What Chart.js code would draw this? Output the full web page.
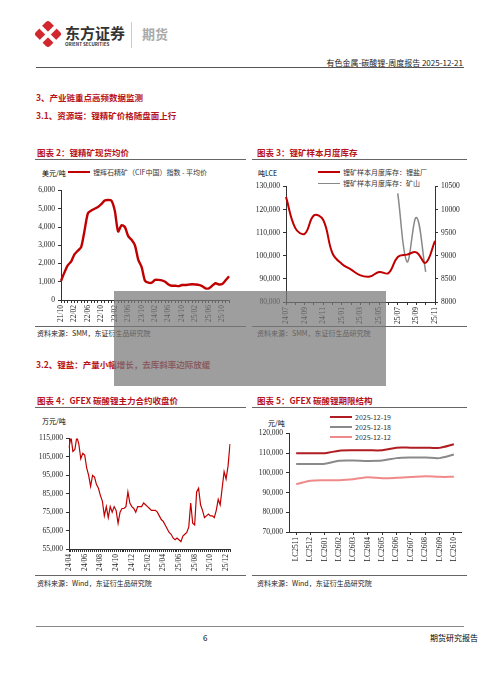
<!DOCTYPE html>
<html><head><meta charset="utf-8">
<script src="https://cdn.jsdelivr.net/npm/chart.js@4"></script>
<style>
body{margin:0;width:500px;height:678px;background:#fff;position:relative;overflow:hidden;font-family:"Noto Sans CJK SC",serif;}
.a{position:absolute;white-space:nowrap;}
.red{color:#b8121b;font-weight:bold;}
.t{font-size:8.5px;}
.src{font-size:7px;color:#222;}
.ln{position:absolute;height:0;border-top:1px solid #666;}
canvas{position:absolute;}
.lg{position:absolute;font-size:7px;color:#333;white-space:nowrap;display:flex;align-items:center;}
.lg i{display:inline-block;width:22px;height:0;margin-right:3px;}
</style></head><body>
<!-- header -->
<div class="a" style="left:38px;top:24px;width:20px;height:20px;transform:rotate(45deg);background:#d0282e;border-radius:3px;"></div>
<div class="a" style="left:46px;top:23px;width:4px;height:23px;background:#fff;transform:rotate(45deg);"></div>
<div class="a" style="left:46px;top:23px;width:4px;height:23px;background:#fff;transform:rotate(-45deg);"></div>
<div class="a" style="left:65px;top:22px;font-size:15px;font-weight:bold;color:#333;">东方证券</div>
<div class="a" style="left:65px;top:41px;font-size:4.5px;font-weight:bold;color:#333;">ORIENT SECURITIES</div>
<div class="a" style="left:131px;top:22px;width:1px;height:26px;background:#ccc;"></div>
<div class="a" style="left:142px;top:24px;font-size:13px;font-weight:bold;color:#aaa;">期货</div>
<div class="a" style="right:37px;top:57px;font-size:8px;color:#222;">有色金属-碳酸锂-周度报告 2025-12-21</div>
<div class="ln" style="left:36px;width:428px;top:67px;border-color:#555;"></div>
<div class="a red t" style="left:36px;top:91px;">3、产业链重点高频数据监测</div>
<div class="a red t" style="left:36px;top:109px;">3.1、资源端：锂精矿价格随盘面上行</div>
<div class="a red t" style="left:37px;top:146px;">图表 2：锂精矿现货均价</div>
<div class="a red t" style="left:257px;top:146px;">图表 3：锂矿样本月度库存</div>
<div class="ln" style="left:35px;width:211px;top:159px;"></div>
<div class="ln" style="left:252px;width:215px;top:159px;"></div>
<div class="a" style="left:42px;top:168px;font-size:7px;">美元/吨</div>
<div class="lg" style="left:68px;top:167px;"><i style="border-top:2.5px solid #c00000"></i>锂辉石精矿（CIF中国）指数 - 平均价</div>
<div class="a" style="left:258px;top:168px;font-size:7px;">吨LCE</div>
<div class="lg" style="left:318px;top:167px;"><i style="border-top:2px solid #c00000"></i>锂矿样本月度库存：锂盐厂</div>
<div class="lg" style="left:318px;top:178px;"><i style="border-top:1.5px solid #888"></i>锂矿样本月度库存：矿山</div>
<div class="ln" style="left:35px;width:211px;top:326px;"></div>
<div class="ln" style="left:252px;width:215px;top:326px;"></div>
<div class="a src" style="left:37px;top:328px;">资料来源：SMM，东证衍生品研究院</div>
<div class="a src" style="left:257px;top:328px;">资料来源：SMM，东证衍生品研究院</div>
<div class="a red t" style="left:36px;top:358px;">3.2、锂盐：产量小幅增长，去库斜率边际放缓</div>
<div class="a red t" style="left:37px;top:394px;">图表 4：GFEX 碳酸锂主力合约收盘价</div>
<div class="a red t" style="left:257px;top:394px;">图表 5：GFEX 碳酸锂期限结构</div>
<div class="ln" style="left:35px;width:211px;top:407px;"></div>
<div class="ln" style="left:252px;width:215px;top:407px;"></div>
<div class="a" style="left:42px;top:416px;font-size:7px;">万元/吨</div>
<div class="a" style="left:268px;top:418px;font-size:7px;">元/吨</div>
<div class="lg" style="left:330px;top:412px;"><i style="border-top:2.5px solid #b01c22"></i>2025-12-19</div>
<div class="lg" style="left:330px;top:422px;"><i style="border-top:2.5px solid #8a8a8a"></i>2025-12-18</div>
<div class="lg" style="left:330px;top:432px;"><i style="border-top:2.5px solid #f08a8a"></i>2025-12-12</div>
<div class="ln" style="left:35px;width:211px;top:575px;"></div>
<div class="ln" style="left:252px;width:215px;top:575px;"></div>
<div class="a src" style="left:37px;top:578px;">资料来源：Wind，东证衍生品研究院</div>
<div class="a src" style="left:257px;top:578px;">资料来源：Wind，东证衍生品研究院</div>
<div class="ln" style="left:36px;width:428px;top:626px;border-color:#888;"></div>
<div class="a" style="left:203px;top:632px;font-size:8px;">6</div>
<div class="a" style="left:430px;top:632px;font-size:8px;">期货研究报告</div>

<canvas id="c2" width="209" height="141" style="left:31px;top:183px;"></canvas>
<canvas id="c3" width="211" height="147" style="left:254px;top:179px;"></canvas>
<canvas id="c4" width="204" height="142" style="left:37px;top:431px;"></canvas>
<canvas id="c5" width="209" height="138" style="left:256px;top:426px;"></canvas>
<div class="a" style="left:114px;top:291px;width:272px;height:95px;background:rgba(120,120,120,0.72);"></div>
<script>
// chart 2: spodumene CIF China, monthly
const spodMonths = ['21/10','21/11','21/12','22/01','22/02','22/03','22/04','22/05','22/06','22/07','22/08','22/09','22/10','22/11','22/12',
 '23/01','23/02','23/03','23/04','23/05','23/06','23/07','23/08','23/09','23/10','23/11','23/12',
 '24/01','24/02','24/03','24/04','24/05','24/06','24/07','24/08','24/09','24/10','24/11','24/12',
 '25/01','25/02','25/03','25/04','25/05','25/06','25/07','25/08','25/09','25/10','25/11','25/12'];
const spodPrice = [1050,1500,1900,2100,2500,2700,2900,3800,4750,4900,5000,5100,5250,5450,5480,
 5450,4900,3750,4100,4000,3500,3300,3000,2200,1800,1050,950,
 950,1100,1100,1080,1000,850,780,780,760,820,820,840,
 860,850,830,760,640,640,780,920,850,880,1080,1300];
const spodTicks = ['21/10','22/02','22/06','22/10','23/02','23/06','23/10','24/02','24/06','24/10','25/02','25/06','25/10'];

// chart 3: lithium ore inventory
const invMonths = ['24/07','24/08','24/09','24/10','24/11','24/12','25/01','25/02','25/03','25/04','25/05','25/06','25/07','25/08','25/09','25/10','25/11'];
const invSaltPlant = [125500,112000,109500,117500,115500,101000,96500,94000,91500,91000,93000,92500,99500,100500,101500,97000,106500];
const invMine = [null,null,null,null,null,null,null,null,null,null,null,null,10350,8870,9830,8650,null];
const invTicks = ['24/07','24/09','24/11','25/01','25/03','25/05','25/07','25/09','25/11'];

// chart 4: GFEX main contract, roughly weekly
const gfexMonths = ['24/04','24/05','24/06','24/07','24/08','24/09','24/10','24/11','24/12','25/01','25/02','25/03','25/04','25/05','25/06','25/07','25/08','25/09','25/10','25/11','25/12'];
const gfexClose = [
 110000,116000,108000,109000, 116000,112000,104000,107000, 106000,99000,95000,89000, 95000,94000,90000,88000,
 84000,81000,73000,78000, 72000,78000,75000,78000, 76000,69000,75000,77000, 77000,78000,86000,80000,
 78000,77000,75000,78000, 78000,78000,80000,79000, 78000,77000,76000,76000, 76000,75000,73000,71000,
 70000,68000,66000,64000, 63000,61000,60000,61000, 60000,59000,62000,63000, 64000,67000,80000,69000,
 68000,86000,88000,79000, 76000,72000,73000,74000, 73000,73000,72000,76000, 82000,79000,88000,97000,
 93000,100000,112000];
const gfexLabels = gfexClose.map((v, i) => gfexMonths[Math.floor(i / 4)] + (i % 4 === 0 ? '' : '#' + i));
const gfexTicks = ['24/04','24/06','24/08','24/10','24/12','25/02','25/04','25/06','25/08','25/10','25/12'];

// chart 5: term structure
const contracts = ['LC2511','LC2512','LC2601','LC2602','LC2603','LC2604','LC2605','LC2606','LC2607','LC2608','LC2609','LC2610'];
const curve1219 = [110000,110000,110000,111300,111500,111500,111500,112800,112800,112800,112700,114500];
const curve1218 = [104500,104500,104700,106200,106300,106100,106300,107500,107800,107800,107500,109300];
const curve1212 = [94300,96000,96300,96300,96800,97800,97300,97500,97900,98300,98000,98000];

const tickFont = { family: 'Liberation Serif', size: 7.5 };
const fmt = v => v.toLocaleString('en-US');
const axisBase = { grid: { drawOnChartArea: false, drawTicks: true, tickLength: 3, color: '#333' }, border: { color: '#333' } };
const fixW = w => s => { s.width = w; };
const fixH = h => s => { s.height = h; };

function xCat(show, h, extra = {}) {
  return Object.assign({}, axisBase, {
    afterFit: fixH(h),
    ticks: { font: tickFont, color: '#222', minRotation: 90, maxRotation: 90, autoSkip: false, padding: 2,
      callback: function (v) { const l = this.getLabelForValue(v); return show.includes(l) ? l : ''; } }
  }, extra);
}
function yLin(min, max, step, w, pos = 'left', cb = fmt) {
  return Object.assign({}, axisBase, { position: pos, min, max, afterFit: fixW(w),
    ticks: { stepSize: step, font: tickFont, color: '#222', padding: 3, callback: cb } });
}
const baseOpts = { responsive: false, animation: false, plugins: { legend: { display: false }, tooltip: { enabled: false } } };

new Chart(document.getElementById('c2'), {
  type: 'line',
  data: { labels: spodMonths, datasets: [{ data: spodPrice, borderColor: '#c00000', borderWidth: 2.4, pointRadius: 0, tension: 0.25 }] },
  options: { ...baseOpts, layout: { padding: { top: 5, right: 3 } },
    scales: { x: xCat(spodTicks, 24), y: yLin(0, 6000, 1000, 30) } }
});

new Chart(document.getElementById('c3'), {
  type: 'line',
  data: { labels: invMonths, datasets: [
    { data: invSaltPlant, borderColor: '#c00000', borderWidth: 2, pointRadius: 0, tension: 0.4, yAxisID: 'y' },
    { data: invMine, borderColor: '#888', borderWidth: 1.5, pointRadius: 0, tension: 0.4, yAxisID: 'y2' }
  ] },
  options: { ...baseOpts, layout: { padding: { top: 5 } },
    scales: { x: xCat(invTicks, 24), y: yLin(80000, 130000, 10000, 32),
      y2: yLin(8000, 10500, 500, 30, 'right', v => String(v)) } }
});

new Chart(document.getElementById('c4'), {
  type: 'line',
  data: { labels: gfexLabels, datasets: [{ data: gfexClose, borderColor: '#c00000', borderWidth: 1.2, pointRadius: 0, tension: 0 }] },
  options: { ...baseOpts, layout: { padding: { top: 5, right: 3 } },
    scales: { x: xCat(gfexTicks, 24), y: yLin(55000, 115000, 10000, 32) } }
});

new Chart(document.getElementById('c5'), {
  type: 'line',
  data: { labels: contracts, datasets: [
    { data: curve1219, borderColor: '#b01c22', borderWidth: 2, pointRadius: 0, tension: 0.3 },
    { data: curve1218, borderColor: '#8a8a8a', borderWidth: 2, pointRadius: 0, tension: 0.3 },
    { data: curve1212, borderColor: '#f08a8a', borderWidth: 2, pointRadius: 0, tension: 0.3 }
  ] },
  options: { ...baseOpts, layout: { padding: { top: 5, right: 3 } },
    scales: { x: xCat(contracts, 32, { offset: true }), y: yLin(70000, 120000, 10000, 33) } }
});
</script>
</body></html>
